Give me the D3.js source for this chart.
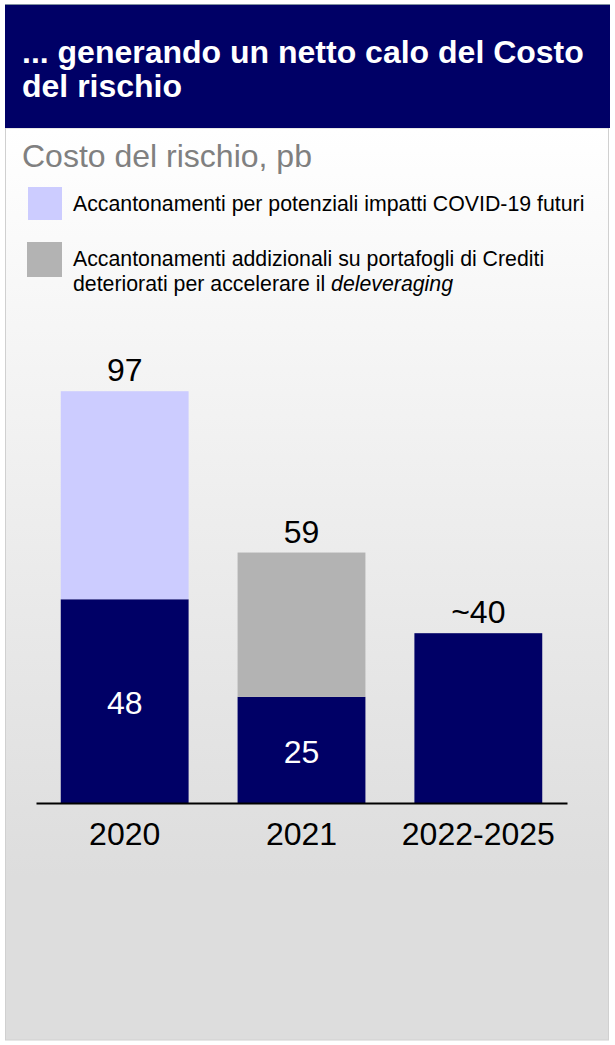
<!DOCTYPE html>
<html><head><meta charset="utf-8">
<script src="https://cdn.jsdelivr.net/npm/d3@7"></script>
<style>body{margin:0;background:#fff}svg{display:block;font-family:"Liberation Sans",Arial,sans-serif}</style>
</head><body>
<script>
const categories = ["2020","2021","2022-2025"];
const baseValues = [48, 25, 40];
const covidValues = [49, 0, 0];
const nplValues = [0, 34, 0];
const totalLabels = ["97","59","~40"];
const innerLabels = ["48","25",""];
const legendLabels = ["Accantonamenti per potenziali impatti COVID-19 futuri","Accantonamenti addizionali su portafogli di Crediti"];

const W=615,H=1045;
const svg=d3.select("body").append("svg").attr("width",W).attr("height",H);
const defs=svg.append("defs");
const g=defs.append("linearGradient").attr("id","bg").attr("x1",0).attr("y1",0).attr("x2",0).attr("y2",1);
g.append("stop").attr("offset","0%").attr("stop-color","#ffffff");
g.append("stop").attr("offset","82%").attr("stop-color","#dddddd");
g.append("stop").attr("offset","100%").attr("stop-color","#dddddd");

svg.append("rect").attr("x",5.5).attr("y",128).attr("width",603).attr("height",912).attr("fill","url(#bg)").attr("stroke","#d0d0d0");
svg.append("rect").attr("x",5).attr("y",5).attr("width",605).attr("height",123).attr("fill","#000066");
svg.append("line").attr("x1",5).attr("x2",610).attr("y1",4.5).attr("y2",4.5).attr("stroke","#8090a0");

const title=svg.append("text").attr("fill","#fff").attr("font-weight","bold").attr("font-size",32);
title.append("tspan").attr("x",22).attr("y",63).text("... generando un netto calo del Costo");
title.append("tspan").attr("x",22).attr("y",97).text("del rischio");

svg.append("text").attr("x",22).attr("y",167).attr("fill","#808080").attr("font-size",32).text("Costo del rischio, pb");

svg.append("rect").attr("x",28).attr("y",187).attr("width",34).attr("height",33).attr("fill","#ccccff");
svg.append("text").attr("x",73).attr("y",211).attr("font-size",21.3).attr("fill","#000").text(legendLabels[0]);
svg.append("rect").attr("x",27).attr("y",242).attr("width",35).attr("height",35).attr("fill","#b3b3b3");
const l2=svg.append("text").attr("font-size",21.3).attr("fill","#000");
l2.append("tspan").attr("x",73).attr("y",266).text(legendLabels[1]);
l2.append("tspan").attr("x",73).attr("y",291).text("deteriorati per accelerare il ");
l2.append("tspan").attr("font-style","italic").text("deleveraging");

const x=d3.scaleBand().domain(categories).range([36,567]).paddingInner(0.277).paddingOuter(0.14);
const y=d3.scaleLinear().domain([0,100]).range([803,378.5]);

const rows=categories.map((c,i)=>({c,base:baseValues[i],covid:covidValues[i],npl:nplValues[i],tot:totalLabels[i],inner:innerLabels[i]}));
const chart=svg.append("g");
chart.selectAll(".b").data(rows).join("rect").attr("x",d=>x(d.c)).attr("width",x.bandwidth())
 .attr("y",d=>y(d.base)).attr("height",d=>y(0)-y(d.base)).attr("fill","#000066");
chart.selectAll(".cv").data(rows.filter(d=>d.covid>0)).join("rect").attr("x",d=>x(d.c)).attr("width",x.bandwidth())
 .attr("y",d=>y(d.base+d.covid)).attr("height",d=>y(d.base)-y(d.base+d.covid)).attr("fill","#ccccff");
chart.selectAll(".np").data(rows.filter(d=>d.npl>0)).join("rect").attr("x",d=>x(d.c)).attr("width",x.bandwidth())
 .attr("y",d=>y(d.base+d.npl)).attr("height",d=>y(d.base)-y(d.base+d.npl)).attr("fill","#b3b3b3");
chart.selectAll(".tl").data(rows).join("text").attr("x",d=>x(d.c)+x.bandwidth()/2).attr("y",d=>y(d.base+d.covid+d.npl)-10)
 .attr("text-anchor","middle").attr("font-size",32).attr("fill","#000").text(d=>d.tot);
chart.selectAll(".il").data(rows.filter(d=>d.inner)).join("text").attr("x",d=>x(d.c)+x.bandwidth()/2).attr("y",d=>(y(d.base)+y(0))/2+13)
 .attr("text-anchor","middle").attr("font-size",32).attr("fill","#fff").text(d=>d.inner);

const ax=svg.append("g").attr("transform","translate(0,803)").call(d3.axisBottom(x).tickSize(0).tickPadding(19));
ax.select(".domain").attr("stroke","#000").attr("stroke-width",2);
ax.selectAll("text").attr("font-size",32).attr("fill","#000").attr("font-family","Liberation Sans, Arial, sans-serif");
</script>
</body></html>
